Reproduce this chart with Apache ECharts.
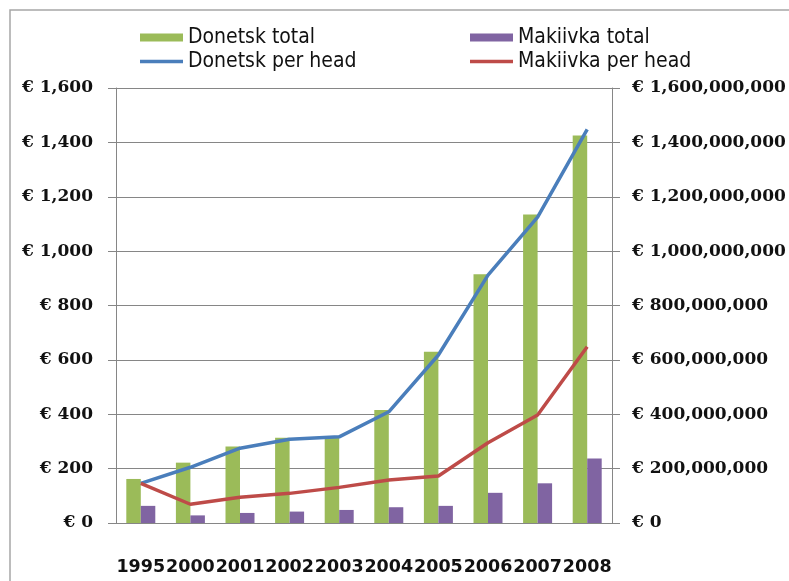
<!DOCTYPE html>
<html>
<head>
<meta charset="utf-8">
<script src="https://cdn.jsdelivr.net/npm/echarts@6/dist/echarts.min.js"></script>
<style>
  html, body { margin: 0; padding: 0; background: #fff; }
  #chart { width: 789px; height: 581px; }
</style>
</head>
<body>
<div id="chart"></div>
<script>
// years on the x axis
var years = ['1995', '2000', '2001', '2002', '2003', '2004', '2005', '2006', '2007', '2008'];
// totals, in millions of euro (right axis)
var donetskTotal = [162, 222, 281, 314, 315, 416, 630, 915, 1135, 1425];
var makiivkaTotal = [63, 28, 37, 42, 48, 58, 63, 111, 146, 237];
// per head, euro (left axis)
var donetskPerHead = [146, 205, 275, 308, 317, 409, 618, 912, 1125, 1448];
var makiivkaPerHead = [146, 69, 95, 109, 131, 158, 173, 295, 397, 648];

var chart = echarts.init(document.getElementById('chart'));

function euro(v) {
  return '€ ' + Math.round(v).toLocaleString('en-US');
}

var axisFont = { fontFamily: 'DejaVu Serif', fontWeight: 'bold', fontSize: 17, color: '#111' };
var legendText = { fontFamily: "'Liberation Sans Narrow', 'DejaVu Sans Condensed', sans-serif", fontSize: 21, color: '#111' };
// thin bar used as the legend mark of the two lines
var lineIcon = 'path://M0 0h43v3.5H0z';

chart.setOption({
  animation: false,
  backgroundColor: '#fff',
  graphic: [{
    type: 'rect',
    shape: { x: 10, y: 10, width: 800, height: 600 },
    style: { fill: 'none', stroke: '#a6a6a6', lineWidth: 1.5 },
    silent: true
  }],
  legend: [{
    orient: 'vertical',
    left: 140,
    top: 27,
    padding: 0,
    itemWidth: 43,
    itemHeight: 8,
    itemGap: 3,
    textStyle: legendText,
    data: [{ name: 'Donetsk total', icon: 'rect' }, { name: 'Donetsk per head', icon: lineIcon }]
  }, {
    orient: 'vertical',
    left: 470,
    top: 27,
    padding: 0,
    itemWidth: 43,
    itemHeight: 8,
    itemGap: 3,
    textStyle: legendText,
    data: [{ name: 'Makiivka total', icon: 'rect' }, { name: 'Makiivka per head', icon: lineIcon }]
  }],
  grid: { left: 116, right: 177, top: 88, bottom: 58 },
  xAxis: {
    type: 'category',
    data: years,
    axisLine: { lineStyle: { color: '#868686', width: 1 } },
    axisTick: { length: 10, lineStyle: { color: '#868686' } },
    axisLabel: {
      interval: 0,
      margin: 35,
      fontFamily: 'DejaVu Sans',
      fontWeight: 'bold',
      fontSize: 17.5,
      color: '#111'
    }
  },
  yAxis: [{
    type: 'value',
    min: 0,
    max: 1600,
    interval: 200,
    axisLine: { show: true, lineStyle: { color: '#868686' } },
    axisTick: { show: true, length: 8, lineStyle: { color: '#868686' } },
    splitLine: { lineStyle: { color: '#868686', width: 1 } },
    axisLabel: Object.assign({ margin: 23, formatter: euro }, axisFont)
  }, {
    type: 'value',
    min: 0,
    max: 1600000000,
    interval: 200000000,
    axisLine: { show: true, lineStyle: { color: '#868686' } },
    axisTick: { show: true, length: 8, lineStyle: { color: '#868686' } },
    splitLine: { show: false },
    axisLabel: Object.assign({ margin: 20, formatter: euro }, axisFont)
  }],
  series: [{
    name: 'Donetsk total',
    type: 'bar',
    yAxisIndex: 1,
    barWidth: 14.5,
    barGap: '0%',
    itemStyle: { color: '#9BBB59' },
    data: donetskTotal.map(function (v) { return v * 1e6; })
  }, {
    name: 'Makiivka total',
    type: 'bar',
    yAxisIndex: 1,
    barWidth: 14.5,
    barGap: '0%',
    itemStyle: { color: '#8064A2' },
    data: makiivkaTotal.map(function (v) { return v * 1e6; })
  }, {
    name: 'Donetsk per head',
    type: 'line',
    yAxisIndex: 0,
    symbol: 'none',
    lineStyle: { color: '#4A7EBB', width: 3.5 },
    itemStyle: { color: '#4A7EBB' },
    data: donetskPerHead
  }, {
    name: 'Makiivka per head',
    type: 'line',
    yAxisIndex: 0,
    symbol: 'none',
    lineStyle: { color: '#BE4B48', width: 3.5 },
    itemStyle: { color: '#BE4B48' },
    data: makiivkaPerHead
  }]
});
</script>
</body>
</html>
